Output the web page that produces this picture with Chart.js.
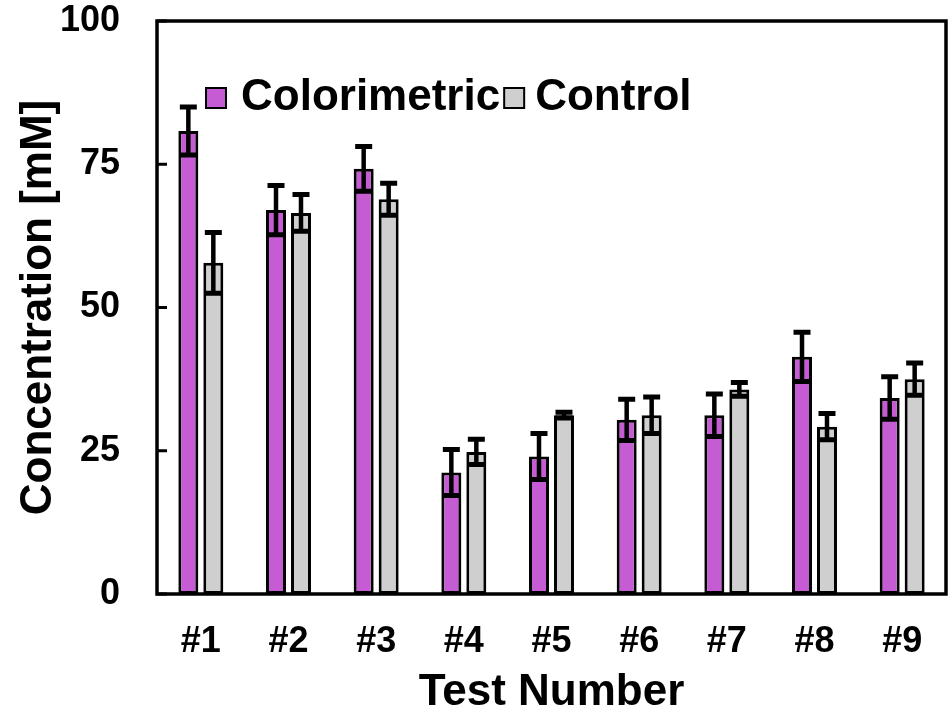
<!DOCTYPE html>
<html>
<head>
<meta charset="utf-8">
<script src="https://cdn.jsdelivr.net/npm/chart.js@4/dist/chart.umd.min.js"></script>
<style>
  html, body { margin: 0; padding: 0; background: #ffffff; }
  #wrap { width: 951px; height: 712px; }
</style>
</head>
<body>
<div id="wrap"><canvas id="chart" width="951" height="712"></canvas></div>
<script>
// Test categories and measured concentrations (mM), mean and error
const testNumbers = ['#1', '#2', '#3', '#4', '#5', '#6', '#7', '#8', '#9'];
const colorimetric = [80.8, 67.0, 74.2, 21.2, 24.0, 30.4, 31.2, 41.4, 34.2];
const colorimetricErr = [4.2, 4.3, 3.9, 4.0, 4.0, 3.6, 3.7, 4.3, 3.7];
const control = [57.8, 66.5, 68.9, 24.8, 31.2, 31.2, 35.7, 29.2, 37.5];
const controlErr = [5.3, 3.2, 2.8, 2.2, 0.5, 3.2, 1.2, 2.3, 2.8];
const yTicks = [0, 25, 50, 75, 100];

const FONT = "'Liberation Sans', Arial, Helvetica, sans-serif";
Chart.defaults.font.family = FONT;
Chart.defaults.color = '#000000';

// Error bars: vertical whisker with caps, placed on each bar via the value scale
const errorBarPlugin = {
  id: 'errorBars',
  afterDatasetsDraw(chart) {
    const ctx = chart.ctx;
    const y = chart.scales.y;
    chart.data.datasets.forEach((ds, di) => {
      const meta = chart.getDatasetMeta(di);
      meta.data.forEach((bar, i) => {
        const v = ds.data[i], e = ds.errors[i];
        const yTop = y.getPixelForValue(v + e);
        const yBot = y.getPixelForValue(v - e);
        const x = bar.x;
        const cap = 17;
        ctx.save();
        ctx.strokeStyle = '#000000';
        ctx.lineWidth = 4.5;
        ctx.lineCap = 'butt';
        ctx.beginPath();
        ctx.moveTo(x, yTop);
        ctx.lineTo(x, yBot);
        ctx.stroke();
        ctx.lineWidth = 5;
        ctx.beginPath();
        ctx.moveTo(x - cap / 2, yTop);
        ctx.lineTo(x + cap / 2, yTop);
        ctx.moveTo(x - cap / 2, yBot);
        ctx.lineTo(x + cap / 2, yBot);
        ctx.stroke();
        ctx.restore();
      });
    });
  }
};

// Plot frame with inward tick marks on the value axis
const framePlugin = {
  id: 'frame',
  afterDraw(chart) {
    const {ctx, chartArea: a} = chart;
    const y = chart.scales.y;
    ctx.save();
    ctx.strokeStyle = '#000000';
    ctx.lineWidth = 3.5;
    ctx.strokeRect(a.left, a.top, a.right - a.left, a.bottom - a.top);
    ctx.lineWidth = 3;
    ctx.beginPath();
    yTicks.forEach(t => {
      const py = y.getPixelForValue(t);
      ctx.moveTo(a.left, py);
      ctx.lineTo(a.left + 10, py);
    });
    ctx.stroke();
    ctx.restore();
  }
};

// Legend drawn inside the plot area, close to the top-left corner
const insideLegendPlugin = {
  id: 'insideLegend',
  afterDraw(chart) {
    const {ctx, chartArea: a} = chart;
    ctx.save();
    ctx.font = 'bold 44px ' + FONT;
    ctx.textBaseline = 'middle';
    ctx.textAlign = 'left';
    let x = a.left + 49;
    const cy = a.top + 77;
    const box = 20;
    chart.data.datasets.forEach((ds, i) => {
      ctx.fillStyle = ds.backgroundColor;
      ctx.fillRect(x, cy - box / 2, box, box);
      ctx.strokeStyle = '#000000';
      ctx.lineWidth = 2;
      ctx.strokeRect(x, cy - box / 2, box, box);
      x += box + (i === 0 ? 15 : 11);
      ctx.fillStyle = '#000000';
      ctx.fillText(ds.label, x, cy);
      x += ctx.measureText(ds.label).width + 4;
    });
    ctx.restore();
  }
};

new Chart(document.getElementById('chart'), {
  type: 'bar',
  data: {
    labels: testNumbers,
    datasets: [
      {
        label: 'Colorimetric',
        data: colorimetric,
        errors: colorimetricErr,
        backgroundColor: '#C65CD4',
        borderColor: '#000000',
        borderWidth: 3,
        borderSkipped: false
      },
      {
        label: 'Control',
        data: control,
        errors: controlErr,
        backgroundColor: '#D0CFD0',
        borderColor: '#000000',
        borderWidth: 3,
        borderSkipped: false
      }
    ]
  },
  options: {
    responsive: false,
    animation: false,
    categoryPercentage: 0.57,
    barPercentage: 0.8,
    layout: { padding: { top: 21, right: 5, bottom: 0, left: 0 } },
    plugins: {
      legend: { display: false },
      tooltip: { enabled: false }
    },
    scales: {
      x: {
        grid: { display: false, drawTicks: false },
        border: { display: false },
        ticks: {
          padding: 26,
          font: { size: 36, weight: 'bold' },
          color: '#000000'
        },
        title: {
          display: true,
          text: 'Test Number',
          font: { size: 44, weight: 'bold' },
          color: '#000000',
          padding: { top: 0, bottom: -7 }
        },
        afterFit(scale) {
          scale.height = 118;
          scale.paddingLeft = 0;
          scale.paddingRight = 0;
        }
      },
      y: {
        min: 0,
        max: 100,
        grid: { display: false, drawTicks: false },
        border: { display: false },
        afterBuildTicks(scale) { scale.ticks = yTicks.map(v => ({ value: v })); },
        ticks: {
          padding: 37,
          font: { size: 36, weight: 'bold' },
          color: '#000000'
        },
        title: {
          display: true,
          text: 'Concentration [mM]',
          font: { size: 44, weight: 'bold' },
          color: '#000000',
          padding: { top: 12, bottom: 0 }
        },
        afterFit(scale) {
          scale.width = 157;
          scale.paddingTop = 0;
          scale.paddingBottom = 0;
        }
      }
    }
  },
  plugins: [errorBarPlugin, framePlugin, insideLegendPlugin]
});
</script>
</body>
</html>
